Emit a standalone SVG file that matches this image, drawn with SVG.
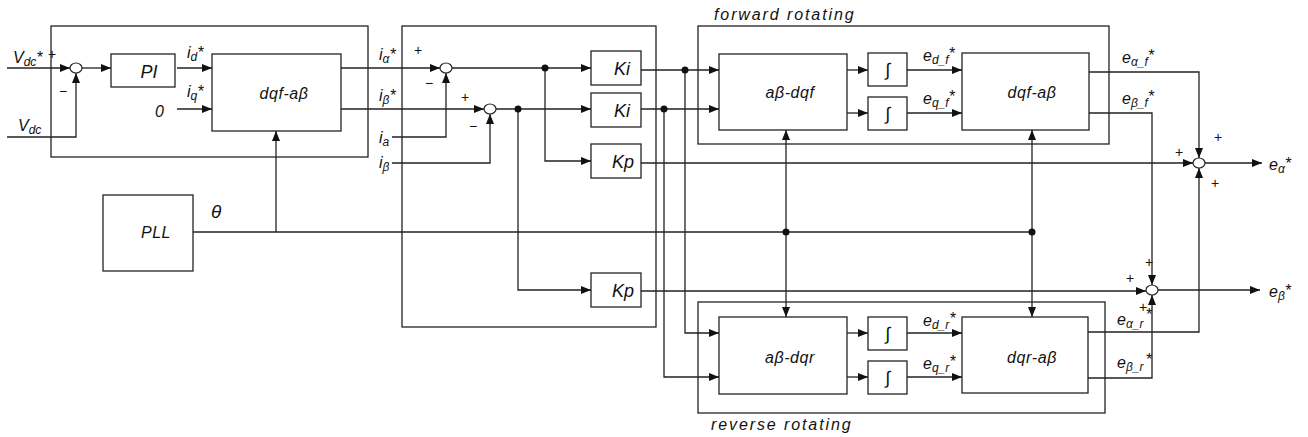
<svg xmlns="http://www.w3.org/2000/svg" width="1308" height="437" viewBox="0 0 1308 437">
<defs>
<style>
rect{fill:none;stroke:#222;stroke-width:1.3}
.c path,.c line{fill:none;stroke:#222;stroke-width:1.3}
.sum{fill:#fff;stroke:#222;stroke-width:1.2}
.dot{fill:#111}
text{font-family:"Liberation Sans",Arial,sans-serif;font-style:italic;fill:#111;font-size:16px}
.b{font-size:18px}
.m{font-size:16px;letter-spacing:0.6px}
.s{font-size:12px}
.pm{font-style:normal;font-size:14px;text-anchor:middle}
.cap{font-size:16px;letter-spacing:1.9px}
.mid{text-anchor:middle}
</style>
<marker id="ar" viewBox="0 0 10 8" refX="10" refY="4" markerWidth="10" markerHeight="8" markerUnits="userSpaceOnUse" orient="auto">
<path d="M0,0 L10,4 L0,8 Z" fill="#111"/>
</marker>
</defs>
<rect x="0" y="0" width="1308" height="437" style="fill:#fff;stroke:none"/>
<g opacity="0.999">
<g id="outer-dc"><rect x="51" y="26" width="317" height="131"/></g>
<g id="outer-cur"><rect x="402" y="26" width="254" height="301"/></g>
<g id="outer-fwd"><rect x="698" y="26" width="411" height="118"/><text class="cap" x="714" y="20">forward rotating</text></g>
<g id="outer-rev"><rect x="698" y="302" width="407" height="111"/><text class="cap" x="711" y="430">reverse rotating</text></g>

<g id="sum0"><ellipse class="sum" cx="76" cy="68" rx="6" ry="5"/></g>
<g id="pi"><rect x="111" y="54" width="64" height="33"/><text class="b mid" x="149" y="78">PI</text></g>
<g id="dqf-ab1"><rect x="212" y="54" width="129" height="77"/><text class="m mid" x="284" y="99">dqf-aβ</text></g>
<g id="pll"><rect x="103" y="195" width="90" height="76"/><text class="mid" x="156" y="238" style="letter-spacing:0.5px">PLL</text></g>
<g id="sum1"><ellipse class="sum" cx="446" cy="68" rx="6" ry="5"/></g>
<g id="sum2"><ellipse class="sum" cx="490" cy="109" rx="6" ry="5"/></g>
<g id="ki1"><rect x="591" y="51" width="50" height="34"/><text class="b mid" x="622" y="75">Ki</text></g>
<g id="ki2"><rect x="591" y="93" width="50" height="34"/><text class="b mid" x="622" y="117">Ki</text></g>
<g id="kp1"><rect x="591" y="144" width="50" height="34"/><text class="b mid" x="623" y="168">Kp</text></g>
<g id="kp2"><rect x="591" y="273" width="50" height="34"/><text class="b mid" x="623" y="297">Kp</text></g>
<g id="ab-dqf"><rect x="719" y="54" width="128" height="76"/><text class="m mid" x="790" y="98">aβ-dqf</text></g>
<g id="int1"><rect x="868" y="53" width="39" height="33"/><text class="b mid" x="888" y="76" style="font-style:normal">∫</text></g>
<g id="int2"><rect x="868" y="97" width="39" height="33"/><text class="b mid" x="888" y="120" style="font-style:normal">∫</text></g>
<g id="dqf-ab2"><rect x="962" y="53" width="127" height="77"/><text class="m mid" x="1032" y="98">dqf-aβ</text></g>
<g id="ab-dqr"><rect x="719" y="317" width="128" height="77"/><text class="m mid" x="790" y="363">aβ-dqr</text></g>
<g id="int3"><rect x="868" y="317" width="39" height="33"/><text class="b mid" x="888" y="340" style="font-style:normal">∫</text></g>
<g id="int4"><rect x="868" y="361" width="39" height="33"/><text class="b mid" x="888" y="384" style="font-style:normal">∫</text></g>
<g id="dqr-ab"><rect x="962" y="317" width="126" height="76"/><text class="m mid" x="1032" y="363">dqr-aβ</text></g>
<g id="sum3"><ellipse class="sum" cx="1199" cy="163" rx="6" ry="5"/></g>
<g id="sum4"><ellipse class="sum" cx="1152" cy="290" rx="6" ry="5"/></g>

<g id="connectors" class="c">
<path d="M7,68 H70" marker-end="url(#ar)"/>
<path d="M7,137 H76 V73" marker-end="url(#ar)"/>
<path d="M82,68 H111" marker-end="url(#ar)"/>
<path d="M177,68 H212" marker-end="url(#ar)"/>
<path d="M177,109 H212" marker-end="url(#ar)"/>
<path d="M193,232 H1032"/>
<path d="M276,232 V131" marker-end="url(#ar)"/>
<path d="M341,68 H440" marker-end="url(#ar)"/>
<path d="M341,109 H484" marker-end="url(#ar)"/>
<path d="M392,137 H446 V73" marker-end="url(#ar)"/>
<path d="M392,163 H490 V114" marker-end="url(#ar)"/>
<path d="M452,68 H591" marker-end="url(#ar)"/>
<path d="M545,68 V161 H591" marker-end="url(#ar)"/>
<path d="M496,109 H591" marker-end="url(#ar)"/>
<path d="M518,109 V290 H591" marker-end="url(#ar)"/>
<path d="M641,70 H719" marker-end="url(#ar)"/>
<path d="M641,109 H719" marker-end="url(#ar)"/>
<path d="M685,70 V333 H719" marker-end="url(#ar)"/>
<path d="M664,109 V377 H719" marker-end="url(#ar)"/>
<path d="M847,70 H868" marker-end="url(#ar)"/>
<path d="M847,113 H868" marker-end="url(#ar)"/>
<path d="M907,70 H962" marker-end="url(#ar)"/>
<path d="M907,113 H962" marker-end="url(#ar)"/>
<path d="M847,333 H868" marker-end="url(#ar)"/>
<path d="M847,377 H868" marker-end="url(#ar)"/>
<path d="M907,333 H962" marker-end="url(#ar)"/>
<path d="M907,377 H962" marker-end="url(#ar)"/>
<path d="M786,232 V130" marker-end="url(#ar)"/>
<path d="M786,232 V317" marker-end="url(#ar)"/>
<path d="M1032,232 V130" marker-end="url(#ar)"/>
<path d="M1032,232 V317" marker-end="url(#ar)"/>
<path d="M1089,72 H1199 V158" marker-end="url(#ar)"/>
<path d="M1089,113 H1152 V285" marker-end="url(#ar)"/>
<path d="M641,163 H1193" marker-end="url(#ar)"/>
<path d="M641,291 H1146" marker-end="url(#ar)"/>
<path d="M1088,332 H1199 V168" marker-end="url(#ar)"/>
<path d="M1088,378 H1152 V295" marker-end="url(#ar)"/>
<path d="M1205,163 H1262" marker-end="url(#ar)"/>
<path d="M1158,290 H1260" marker-end="url(#ar)"/>
<circle class="dot" cx="545" cy="68" r="3.5"/>
<circle class="dot" cx="518" cy="109" r="3.5"/>
<circle class="dot" cx="685" cy="70" r="3.5"/>
<circle class="dot" cx="664" cy="109" r="3.5"/>
<circle class="dot" cx="786" cy="232" r="3.5"/>
<circle class="dot" cx="1032" cy="232" r="3.5"/>
</g>

<g id="labels">
<text x="13" y="63">V<tspan class="s" dy="3">dc</tspan><tspan dy="-3">*</tspan></text>
<text class="pm" x="52" y="59">+</text>
<text class="pm" x="63" y="96">−</text>
<text x="18" y="131">V<tspan class="s" dy="3">dc</tspan></text>
<text x="187" y="58">i<tspan class="s" dy="3">d</tspan><tspan dy="-3">*</tspan></text>
<text x="187" y="97">i<tspan class="s" dy="3">q</tspan><tspan dy="-3">*</tspan></text>
<text x="155" y="117">0</text>
<text x="211" y="218" style="font-size:19px">θ</text>
<text x="379" y="60">i<tspan class="s" dy="3">α</tspan><tspan dy="-3">*</tspan></text>
<text class="pm" x="418" y="55">+</text>
<text class="pm" x="429" y="88">−</text>
<text x="379" y="101">i<tspan class="s" dy="3">β</tspan><tspan dy="-3">*</tspan></text>
<text class="pm" x="465" y="102">+</text>
<text class="pm" x="473" y="131">−</text>
<text x="379" y="143">i<tspan class="s" dy="3">a</tspan></text>
<text x="379" y="168">i<tspan class="s" dy="3">β</tspan></text>
<text x="923" y="61">e<tspan class="s" dy="3">d_f</tspan><tspan dy="-5">*</tspan></text>
<text x="923" y="104">e<tspan class="s" dy="3">q_f</tspan><tspan dy="-5">*</tspan></text>
<text x="923" y="326">e<tspan class="s" dy="3">d_r</tspan><tspan dy="-5">*</tspan></text>
<text x="923" y="369">e<tspan class="s" dy="3">q_r</tspan><tspan dy="-5">*</tspan></text>
<text x="1122" y="63">e<tspan class="s" dy="3">α_f</tspan><tspan dy="-5">*</tspan></text>
<text x="1122" y="104">e<tspan class="s" dy="3">β_f</tspan><tspan dy="-5">*</tspan></text>
<text x="1117" y="325">e<tspan class="s" dy="3">α_r</tspan><tspan dy="-8" dx="2">*</tspan></text>
<text x="1117" y="368">e<tspan class="s" dy="3">β_r</tspan><tspan dy="-6" dx="2">*</tspan></text>
<text class="pm" x="1218" y="142">+</text>
<text class="pm" x="1179" y="157">+</text>
<text class="pm" x="1215" y="188">+</text>
<text x="1269" y="170">e<tspan class="s" dy="3">α</tspan><tspan dy="-4">*</tspan></text>
<text class="pm" x="1149" y="267">+</text>
<text class="pm" x="1130" y="283">+</text>
<text class="pm" x="1143" y="312">+</text>
<text x="1269" y="297">e<tspan class="s" dy="3">β</tspan><tspan dy="-4">*</tspan></text>
</g>
</g>
</svg>
